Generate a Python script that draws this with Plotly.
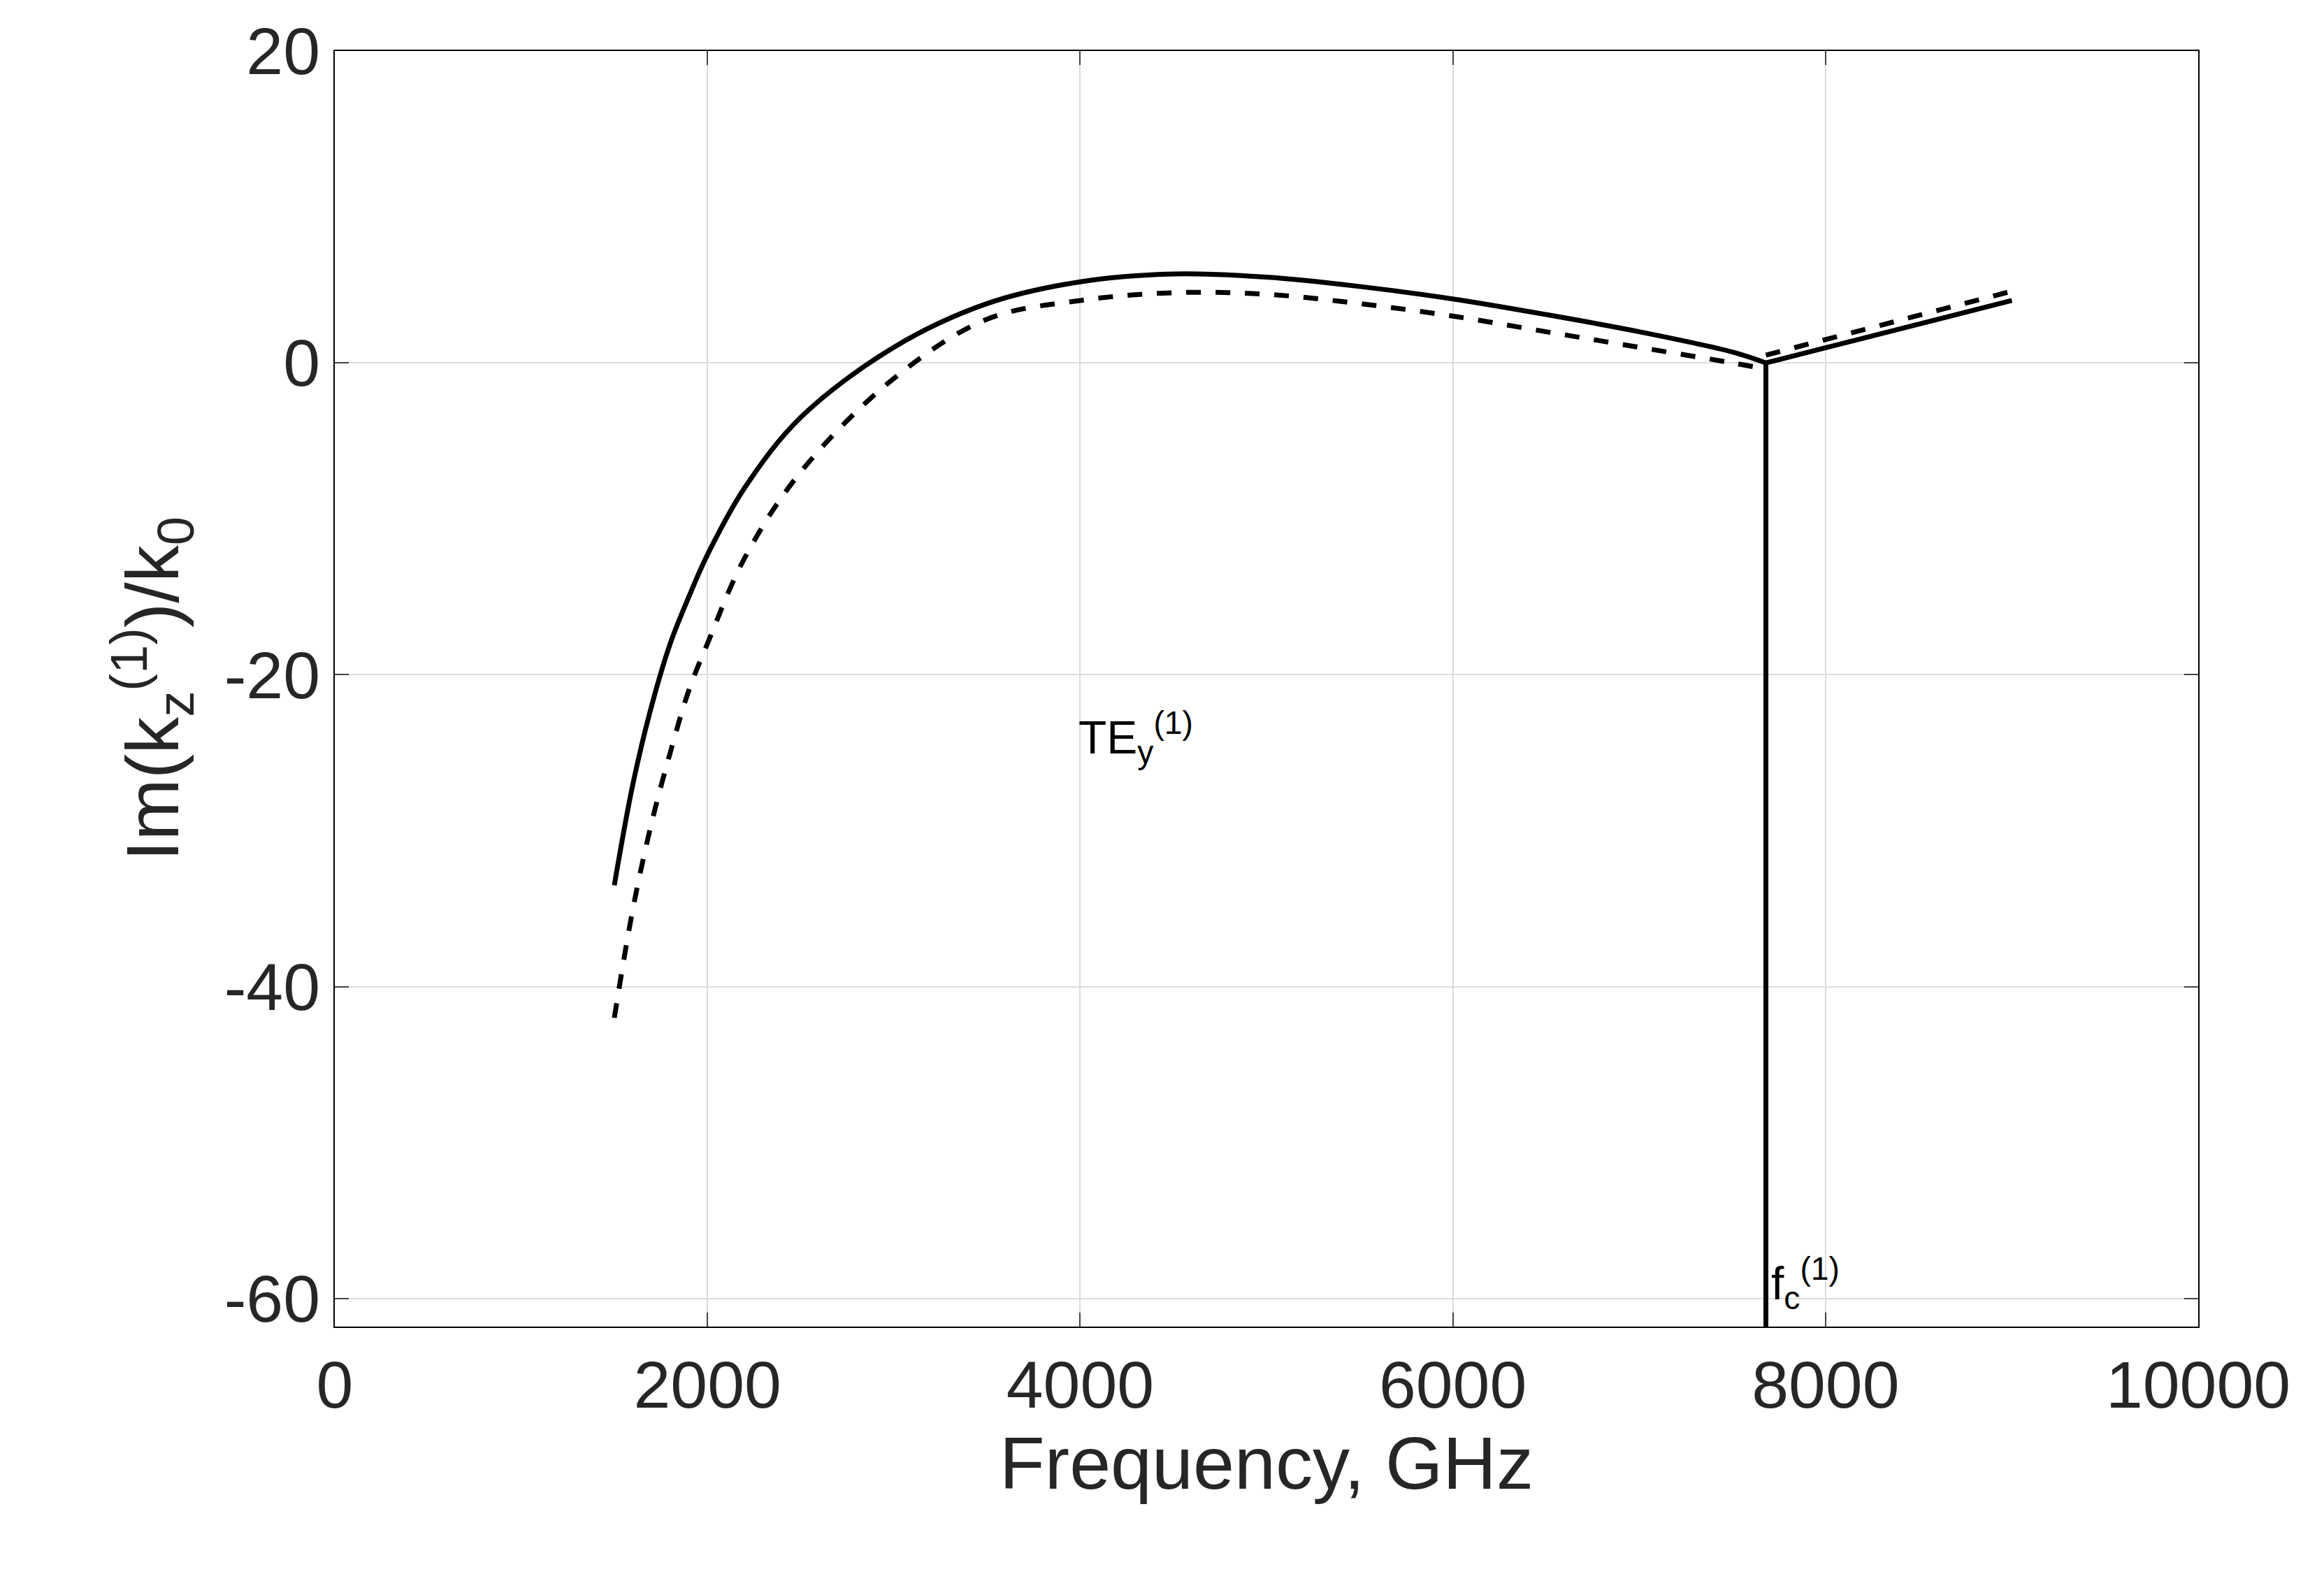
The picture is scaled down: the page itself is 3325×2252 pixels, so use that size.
import plotly.graph_objects as go

sol_x = [1500,1600,1700,1800,1900,2000,2200,2500,3000,3500,4000,4500,5000,5500,6000,6500,7000,7500,7680]
sol_y = [-33.5,-27,-22,-18,-15,-12.3,-8,-3.5,1,3.8,5.2,5.7,5.5,4.9,4.1,3.1,2,0.7,0]
sol_right_x = [7680, 9000]
sol_right_y = [0, 4]
das_x = [1500,1600,1700,1800,1900,2000,2200,2500,3000,3500,4000,4500,5000,5500,6000,6500,7000,7500,7680]
das_y = [-42,-35,-29.5,-25,-21,-18,-12.5,-7,-1,2.8,4,4.5,4.4,3.8,3,2,1,0,-0.4]
das_right_x = [7680, 9000]
das_right_y = [0.5, 4.6]
fc_x = [7680, 7680]
fc_y = [0, -62]

fig = go.Figure()
fig.add_trace(go.Scatter(x=sol_x, y=sol_y, mode="lines", line=dict(color="black", width=7, shape="spline")))
fig.add_trace(go.Scatter(x=sol_right_x, y=sol_right_y, mode="lines", line=dict(color="black", width=7)))
fig.add_trace(go.Scatter(x=fc_x, y=fc_y, mode="lines", line=dict(color="black", width=7)))
fig.add_trace(go.Scatter(x=das_x, y=das_y, mode="lines", line=dict(color="black", width=7, dash="dash", shape="spline")))
fig.add_trace(go.Scatter(x=das_right_x, y=das_right_y, mode="lines", line=dict(color="black", width=7, dash="dash")))

ax = dict(showline=True, linecolor="black", linewidth=2, mirror="ticks", ticks="inside", ticklen=20,
          tickwidth=2, showgrid=True, gridcolor="#dcdcdc", gridwidth=2, zeroline=False,
          tickfont=dict(size=95, color="#262626"))
xt = [0,2000,4000,6000,8000,10000]
yt = [-60,-40,-20,0,20]
fig.update_xaxes(range=[0, 10000], tickvals=xt, ticktext=[str(v) for v in xt],
                 title=dict(text="Frequency, GHz", font=dict(size=106, color="#262626"), standoff=20), **ax)
fig.update_yaxes(range=[-61.8, 20], tickvals=yt, ticktext=[str(v) for v in yt],
                 title=dict(text="Im(k<sub>z</sub><sup>(1)</sup>)/k<sub>0</sub>", font=dict(size=106, color="#262626"), standoff=30), **ax)
fig.add_annotation(x=4300, y=-24, text="TE<sub>y</sub><sup>(1)</sup>", showarrow=False, font=dict(size=66, color="black"))
fig.add_annotation(x=7700, y=-59, xanchor="left", text="f<sub>c</sub><sup>(1)</sup>", showarrow=False, font=dict(size=66, color="black"))
fig.update_layout(width=3325, height=2252, showlegend=False, plot_bgcolor="white", paper_bgcolor="white",
                  font=dict(family="Liberation Sans"),
                  margin=dict(l=471, r=188, t=59, b=362))
fig.write_html("out.html")
